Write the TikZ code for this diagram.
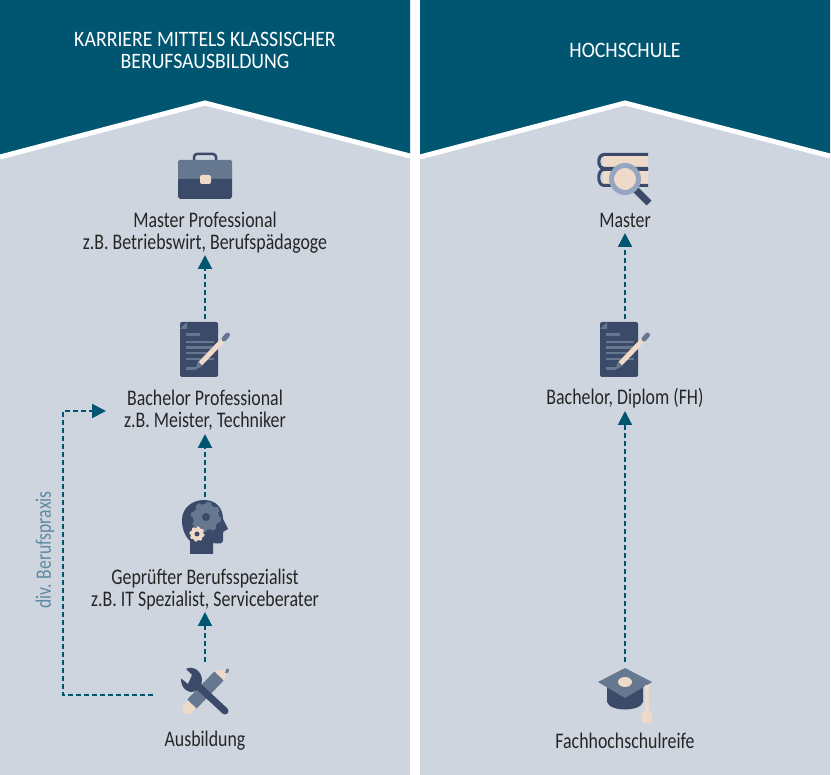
\documentclass[tikz,border=0pt]{standalone}
\usepackage{fontspec}
\setmainfont[FakeStretch=0.8]{Carlito}
\newfontfamily\headfont[FakeStretch=0.9]{Carlito}
\usetikzlibrary{arrows.meta}
\definecolor{teal}{HTML}{005670}
\definecolor{panel}{HTML}{CFD5DF}
\definecolor{icdark}{HTML}{3A4A68}
\definecolor{icmid}{HTML}{65788F}
\definecolor{peach}{HTML}{EFD9C8}
\definecolor{ring}{HTML}{94A6C2}
\definecolor{lbl}{HTML}{5F8AA0}
\tikzset{
 x=1pt,y=-1pt,
 lab/.style={font=\fontsize{22.3}{22}\selectfont,text=black!85,align=center,inner sep=0pt},
 head/.style={font=\headfont\fontsize{22}{22}\selectfont,text=white,align=center,inner sep=0pt},
 flow/.style={draw=teal,line width=2pt,dash pattern=on 5pt off 3pt,-{Triangle[length=14pt,width=14pt,fill=teal]}},
}
\newcommand{\gear}[5]{% x y outer inner color
 \fill[#5] plot[samples=97,domain=0:360] ({#1+(#3*(1+0.16*max(-1,min(1,3*sin(8*\x)))*0.5))*cos(\x)},{#2+(#3*(1+0.16*max(-1,min(1,3*sin(8*\x)))*0.5))*sin(\x)}) -- cycle;
}
\tikzset{
 docicon/.pic={
  \fill[icdark,rounded corners=2pt] (-25,-28) -- (13,-28) -- (13,27) -- (-25,27) -- (-25,-21) -- cycle;
  \fill[icmid] (-25,-21) -- (-18,-28) -- (-18,-21) -- cycle;
  \fill[icmid] (-19,-16.5) rectangle (-5,-14);
  \fill[icmid] (-19,-9) rectangle (9,-6.5);
  \fill[icmid] (-19,-3.5) rectangle (9,-1);
  \fill[icmid] (-19,2) rectangle (9,4.5);
  \fill[icmid] (-19,8) rectangle (9,10.5);
  \fill[icmid] (-19,17.5) rectangle (-9,20.5);
  \draw[peach,line width=5pt] (-5,14) -- (17,-9);
  \draw[icmid,line width=5pt,line cap=round] (19,-11) -- (22.5,-15);
  \fill[icmid] (-10,20) -- (-7,11.5) -- (-2.5,16) -- cycle;
 }
}
\begin{document}
\begin{tikzpicture}
\useasboundingbox (0,0) rectangle (831,775);
\fill[white] (0,0) rectangle (831,775);
% panels
\fill[panel] (0,157) -- (205,102) -- (410,155) -- (410,775) -- (0,775) -- cycle;
\fill[panel] (420,157) -- (625,102) -- (830,155) -- (830,775) -- (420,775) -- cycle;
\fill[teal] (0,0) -- (410,0) -- (410,155) -- (205,101) -- (0,157) -- cycle;
\fill[teal] (420,0) -- (830,0) -- (830,155) -- (625,101) -- (420,157) -- cycle;
\draw[white,line width=5pt] (0,157) -- (205,103) -- (410,156);
\draw[white,line width=5pt] (420,157) -- (625,103) -- (830,156);
% headings
\node[head] (h1) at (205,50) {KARRIERE MITTELS KLASSISCHER\\BERUFSAUSBILDUNG};
\node[head] (h2) at (625,50) {HOCHSCHULE};
% labels
\node[lab] (mp) at (205,233) {Master Professional\\z.B. Betriebswirt, Berufspädagoge};
\node[lab] (bp) at (205,410.5) {Bachelor Professional\\z.B. Meister, Techniker};
\node[lab] (gb) at (205,589.5) {Geprüfter Berufsspezialist\\z.B. IT Spezialist, Serviceberater};
\node[lab] (au) at (205,741) {Ausbildung};
\node[lab] (ma) at (625,220.5) {Master};
\node[lab] (bd) at (625,398.5) {Bachelor, Diplom (FH)};
\node[lab] (fh) at (625,740.5) {Fachhochschulreife};
\node[font=\fontsize{22}{22}\selectfont,text=lbl,rotate=90,inner sep=0pt] (dv) at (45,550) {div. Berufspraxis};
% connector ends
\coordinate (a1) at (205,319);
\coordinate (a2) at (205,255);
\coordinate (b1) at (205,497);
\coordinate (b2) at (205,434);
\coordinate (c1) at (205,662);
\coordinate (c2) at (205,612);
\coordinate (d1) at (153,695);
\coordinate (d2) at (63,695);
\coordinate (d3) at (63,411);
\coordinate (d4) at (106,411);
\coordinate (e1) at (625,319);
\coordinate (e2) at (625,233);
\coordinate (f1) at (625,662);
\coordinate (f2) at (625,411);
\draw[flow] (a1) -- (a2);
\draw[flow] (b1) -- (b2);
\draw[flow] (c1) -- (c2);
\draw[flow] (e1) -- (e2);
\draw[flow] (f1) -- (f2);
\draw[flow] (d1) -- (d2) -- (d3) -- (d4);
% briefcase
\draw[icdark,line width=2.5pt,rounded corners=3pt] (194,161) -- (194,154) -- (216,154) -- (216,161);
\fill[icmid,rounded corners=1.5pt] (178,180) -- (178,160) -- (232,160) -- (232,180) -- cycle;
\fill[icdark] (178,179) -- (232,179) -- (232,197) -- (230,199) -- (180,199) -- (178,197) -- cycle;
\fill[peach,rounded corners=2pt] (200,175) rectangle (211,184);
% doc icons
\pic at (205,350) {docicon};
\pic at (625,350) {docicon};
% head
\fill[icdark] (190,554) -- (190,541)
  .. controls (184,535) and (182,528) .. (182,520)
  .. controls (182,508) and (192,500) .. (204,500)
  .. controls (216,500) and (223,508) .. (223,519)
  -- (228,529) -- (223,532) -- (223,540)
  .. controls (223,544) and (220,544) .. (213,543)
  -- (213,554) -- cycle;
\gear{206}{517}{14}{4}{icmid}
\fill[icdark] (206,517) circle (4);
\gear{197}{534}{7}{2.5}{peach}
\fill[icdark] (197,534) circle (2.5);
% tools
\draw[peach,line width=11pt,line cap=round] (187.5,709) -- (192,704);
\draw[icmid,line width=13pt] (192,704) -- (219,676);
\fill[peach] (214.5,671) -- (224,680.5) -- (228,669) -- cycle;
\fill[icmid] (225,673) -- (226.5,669) -- (229,669) -- (228.5,672.5) -- cycle;
\draw[icdark,line width=7pt,line cap=round] (197,685) -- (225,711);
\fill[icdark] (181,678.5) -- (188,684) -- (192,675) -- (186,669) .. controls (194,665) and (202,672) .. (202,680) .. controls (202,690) and (192,695) .. (186,690) .. controls (182,687) and (181,683) .. (181,678.5) -- cycle;
% cap
\fill[icdark] (607,685) -- (607,702) .. controls (610,712) and (640,712) .. (643,702) -- (643,685) -- cycle;
\fill[icmid] (598,682) -- (625,668) -- (652,682) -- (625,698) -- cycle;
\fill[peach] (625,682) ellipse (7 and 5);
\fill[peach] (645,685) rectangle (649,712);
\fill[peach] (642,723) -- (642,714) -- (645,710) -- (649,710) -- (652,714) -- (652,723) -- cycle;
% books and magnifier
\fill[peach] (603,154) rectangle (648,185);
\fill[icdark] (648,153) -- (604,153) .. controls (595,153) and (595,170) .. (604,170) -- (648,170) -- (648,167) -- (604,167) .. controls (599,167) and (599,156) .. (604,156) -- (648,156) -- cycle;
\fill[icdark] (648,168) -- (604,168) .. controls (595,168) and (595,187) .. (604,187) -- (648,187) -- (648,184) -- (604,184) .. controls (599,184) and (599,171) .. (604,171) -- (648,171) -- cycle;
\draw[icdark,line width=7pt] (636,190) -- (649,203);
\fill[peach] (625,179) circle (14);
\draw[ring,line width=5pt] (625,179) circle (13.5);
\end{tikzpicture}
\end{document}
